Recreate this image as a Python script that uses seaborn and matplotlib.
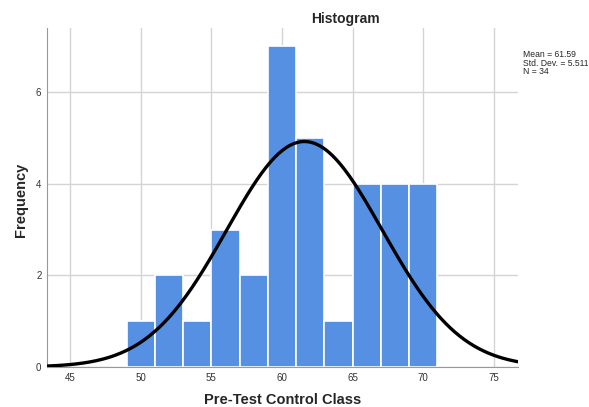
import numpy as np
import matplotlib
matplotlib.use("Agg")
import matplotlib.pyplot as plt
import seaborn as sns

# bin midpoints (bin width 2, from 49 to 71) and their frequencies
bin_mids = [50, 52, 54, 56, 58, 60, 62, 64, 66, 68, 70]
counts = [1, 2, 1, 3, 2, 7, 5, 1, 4, 4, 4]
bin_edges = [49, 51, 53, 55, 57, 59, 61, 63, 65, 67, 69, 71]
mean, sd, n = 61.59, 5.511, 34
x_ticks = [45, 50, 55, 60, 65, 70, 75]
y_ticks = [0, 2, 4, 6]

sns.set_style("white")
plt.rcParams['font.family'] = ['Liberation Sans', 'DejaVu Sans']

fig = plt.figure(figsize=(5.89, 4.07), dpi=100)
ax = fig.add_axes([47 / 589, 1 - 367 / 407, (518 - 47) / 589, (367 - 28) / 407])

sns.histplot(x=bin_mids, weights=counts, bins=bin_edges, ax=ax,
             color="#5590E3", alpha=1, edgecolor="white", linewidth=1.2, zorder=2)

# normal curve scaled to counts
xs = np.linspace(43.37, 76.7, 300)
ys = n * 2 / (sd * np.sqrt(2 * np.pi)) * np.exp(-0.5 * ((xs - mean) / sd) ** 2)
sns.lineplot(x=xs, y=ys, ax=ax, color="black", linewidth=2.4, zorder=3)

ax.set_xlim(43.37, 76.7)
ax.set_ylim(0, 7.4)
ax.set_xticks(x_ticks)
ax.set_yticks(y_ticks)
ax.tick_params(length=0, labelsize=7, colors="#333333", pad=4)
ax.grid(True, color="#d4d4d4", linewidth=1, zorder=0)
ax.set_axisbelow(True)
for s in ["top", "right"]:
    ax.spines[s].set_visible(False)
ax.spines["left"].set_color("#999999")
ax.spines["bottom"].set_color("#999999")

ax.set_xlabel("")
ax.set_ylabel("")
fig.text(283 / 589, 1 - 400 / 407, "Pre-Test Control Class", ha="center", va="center",
         fontsize=10.5, fontweight="bold")
fig.text(21 / 589, 1 - 200 / 407, "Frequency", ha="center", va="center",
         rotation=90, fontsize=10.5, fontweight="bold")

fig.text(345 / 589, 1 - 19 / 407, "Histogram", ha="center", va="center",
         fontsize=10, fontweight="bold")
fig.text(523 / 589, 1 - 50 / 407, f"Mean = {mean}\nStd. Dev. = {sd}\nN = {n}",
         ha="left", va="top", fontsize=6.2, linespacing=0.95)

fig.savefig("out.png", dpi=100)
